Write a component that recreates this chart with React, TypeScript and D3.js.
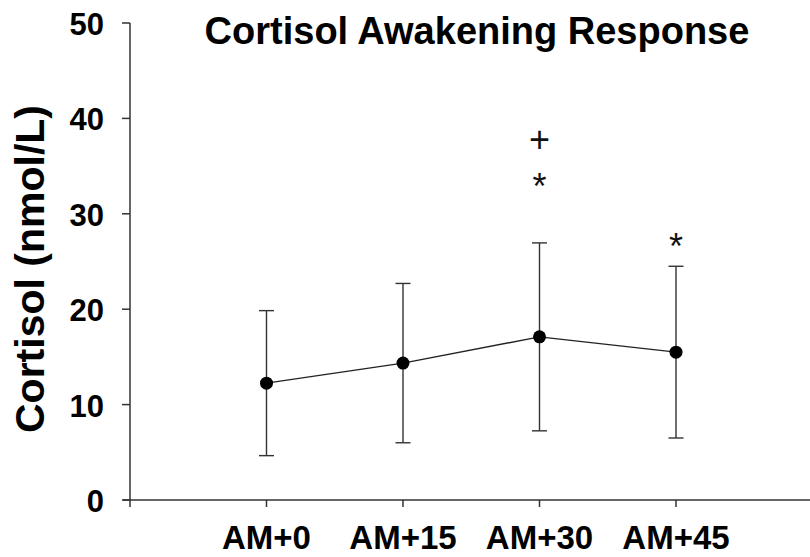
import React from "react";
import * as d3 from "d3";

const categories = ["AM+0", "AM+15", "AM+30", "AM+45"];
const means = [12.25, 14.35, 17.1, 15.5];
const sds = [7.6, 8.35, 9.85, 9.0];
const yTicks = [0, 10, 20, 30, 40, 50];
// significance marks: category, symbol, level on the y scale
const marks: [string, string, number][] = [
  ["AM+30", "+", 37.8],
  ["AM+30", "*", 33.75],
  ["AM+45", "*", 27.45],
];

const W = 810;
const H = 557;
const FONT = "'Liberation Sans', Arial, Helvetica, sans-serif";

const App: React.FC = () => {
  const x = d3.scaleLinear().domain([0, 5]).range([130, 812.5]);
  const y = d3.scaleLinear().domain([0, 50]).range([500, 23]);
  const xTicks = d3.range(0, 6);
  const pos = (c: string) => x(categories.indexOf(c) + 1);

  const line = d3
    .line<number>()
    .x((_, i) => x(i + 1))
    .y((d) => y(d));

  return (
    <svg
      width={W}
      height={H}
      style={{ position: "absolute", left: 0, top: 0, background: "#fff" }}
      fontFamily={FONT}
    >
      <rect width={W} height={H} fill="#fff" />

      {/* title */}
      <text x={477} y={44} textAnchor="middle" fontSize={38} fontWeight="bold" fill="#000">
        Cortisol Awakening Response
      </text>

      {/* y axis */}
      <line x1={130} x2={130} y1={y(50)} y2={y(0)} stroke="#333" strokeWidth={1.5} />
      {yTicks.map((t) => (
        <g key={t}>
          <line x1={122} x2={130} y1={y(t)} y2={y(t)} stroke="#333" strokeWidth={1.5} />
          <text x={104} y={y(t) + 12} textAnchor="end" fontSize={31} fontWeight="bold" fill="#000">
            {t}
          </text>
        </g>
      ))}
      <text
        transform={`translate(44,269) rotate(-90)`}
        textAnchor="middle"
        fontSize={41}
        fontWeight="bold"
        fill="#000"
      >
        Cortisol (nmol/L)
      </text>

      {/* x axis */}
      <line x1={123} x2={W} y1={y(0)} y2={y(0)} stroke="#333" strokeWidth={1.5} />
      {xTicks.map((t) => (
        <line key={t} x1={x(t)} x2={x(t)} y1={y(0)} y2={y(0) + 7} stroke="#333" strokeWidth={1.5} />
      ))}
      {categories.map((c, i) => (
        <text key={c} x={x(i + 1)} y={549} textAnchor="middle" fontSize={33} fontWeight="bold" fill="#000">
          {c}
        </text>
      ))}

      {/* error bars */}
      {means.map((m, i) => {
        const cx = x(i + 1);
        const top = y(m + sds[i]);
        const bot = y(m - sds[i]);
        return (
          <g key={i} stroke="#333" strokeWidth={1.4}>
            <line x1={cx} x2={cx} y1={top} y2={bot} />
            <line x1={cx - 7.5} x2={cx + 7.5} y1={top} y2={top} />
            <line x1={cx - 7.5} x2={cx + 7.5} y1={bot} y2={bot} />
          </g>
        );
      })}

      {/* mean line */}
      <path d={line(means) ?? ""} fill="none" stroke="#222" strokeWidth={1.4} />
      {means.map((m, i) => (
        <circle key={i} cx={x(i + 1)} cy={y(m)} r={6.5} fill="#000" />
      ))}

      {/* significance marks */}
      {marks.map(([c, s, v], i) => (
        <text
          key={i}
          x={pos(c)}
          y={y(v) + (s === "+" ? 12.5 : 21)}
          textAnchor="middle"
          fontSize={36}
          fill="#111"
        >
          {s}
        </text>
      ))}
    </svg>
  );
};

export default App;
